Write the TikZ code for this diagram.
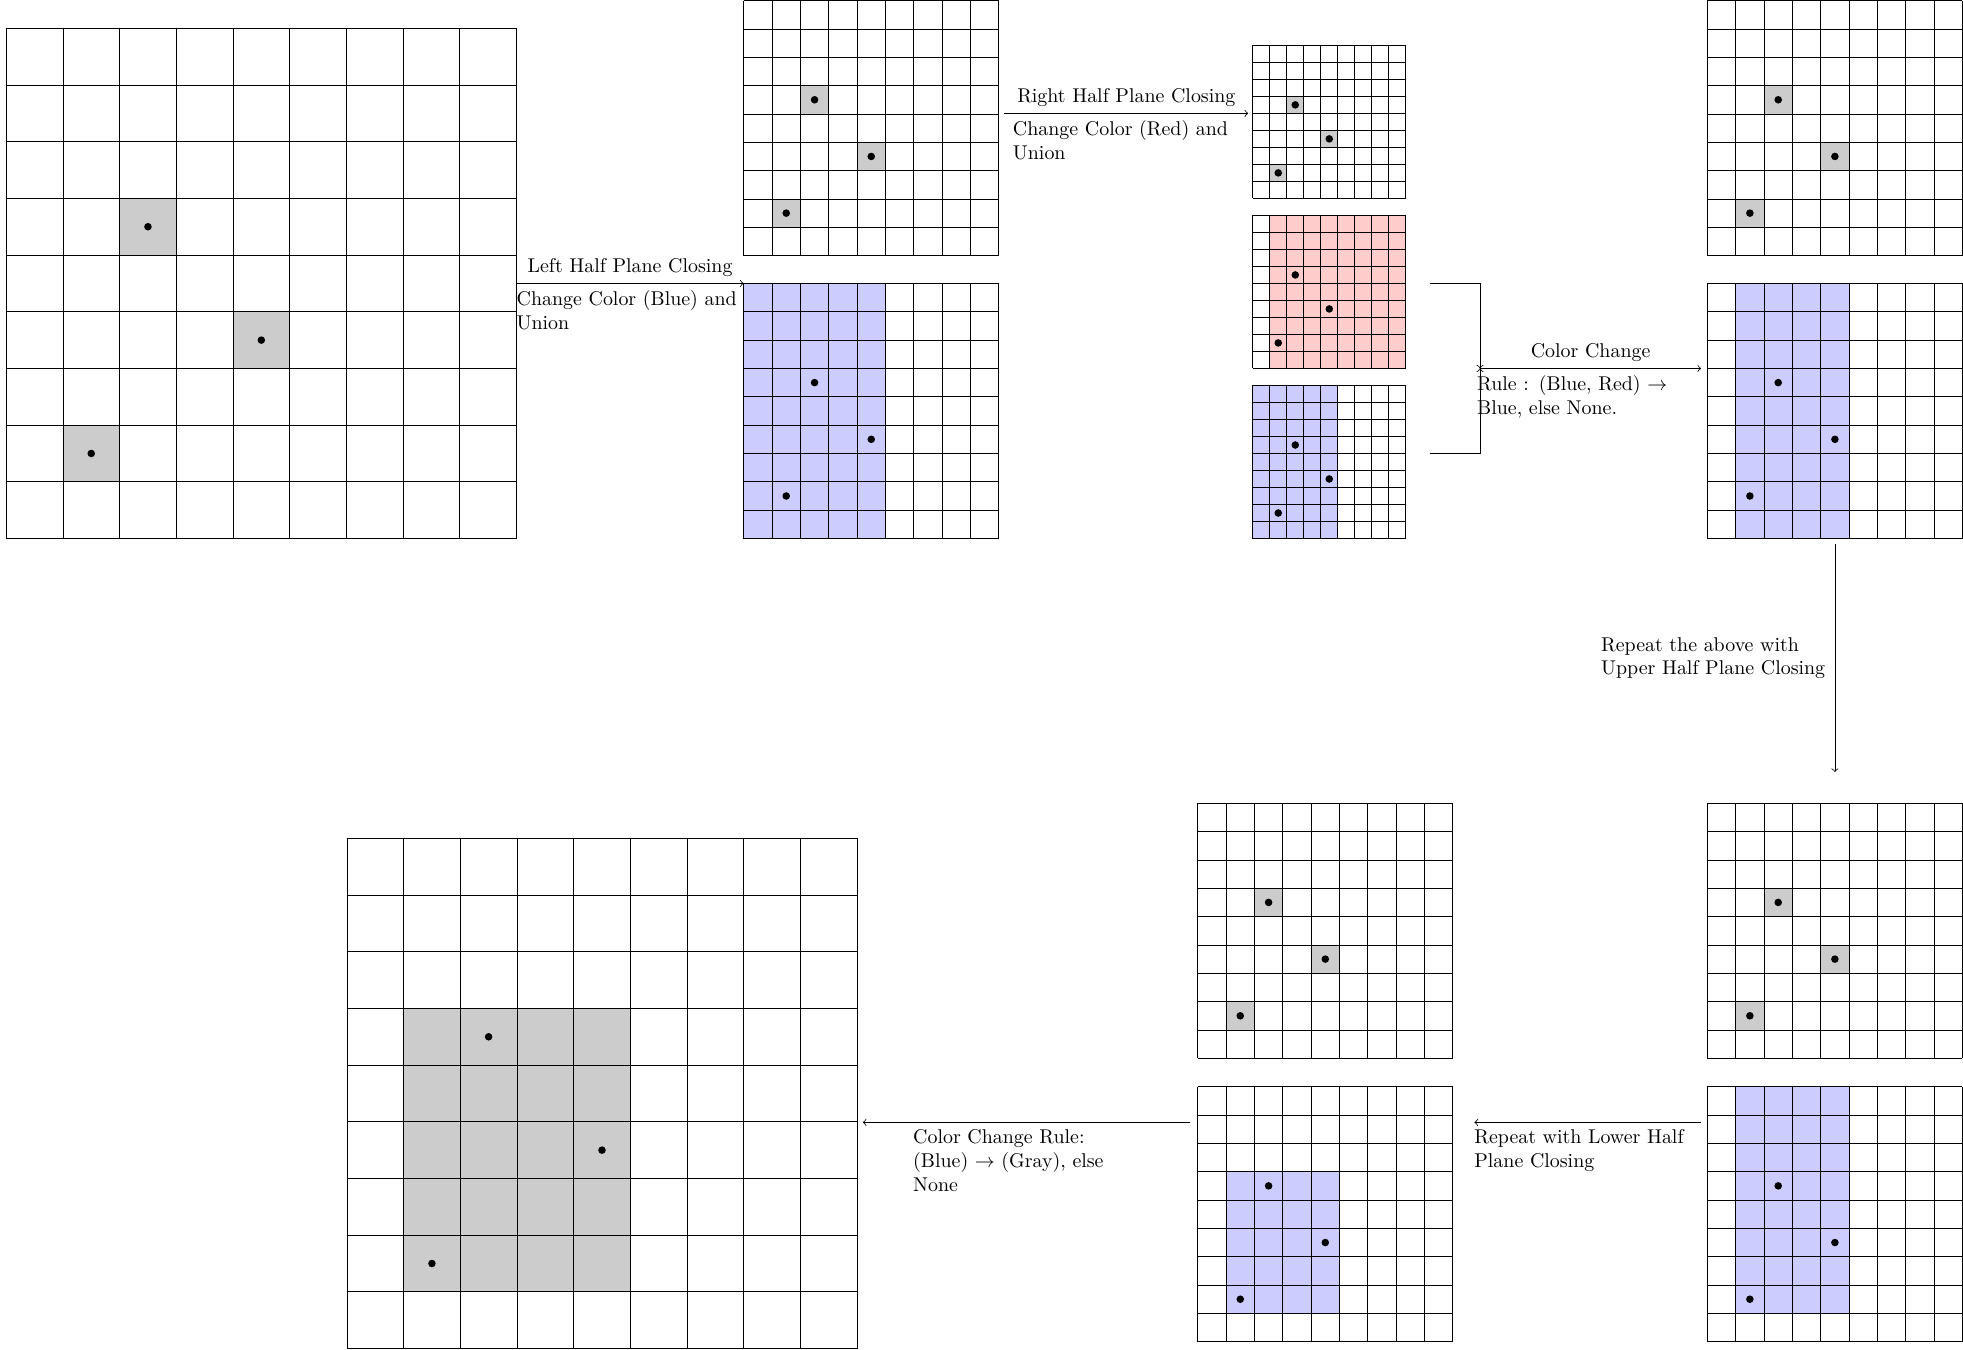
\documentclass[tikz,border=0pt]{standalone}
\usetikzlibrary{calc}
\tikzset{
  gridnode/.style={draw=none, inner sep=0pt, outer sep=0pt, anchor=north west},
  gl/.style={line width=0.4pt, black},
  conn/.style={->, line width=0.4pt},
  lab/.style={text width=4cm, align=left},
  graycell/.style={fill=black!20},
  bluecell/.style={fill=blue!20},
  redcell/.style={fill=red!20},
}
\newcommand\mkgrid[3]{\node[gridnode, minimum width={9*#3cm}, minimum height={9*#3cm}] (#1) at #2 {};}
\newcommand\fillblock[7]{\fill[#3] ($(#1.north west)+({#4*#2},{-#6*#2})$) rectangle ($(#1.north west)+({(#5+1)*#2},{-(#7+1)*#2})$);}
\newcommand\gridlines[2]{\foreach \kk in {0,...,9}{\draw[gl] ($(#1.north west)+({\kk*#2},0)$) -- ++(0,{-9*#2}); \draw[gl] ($(#1.north west)+(0,{-\kk*#2})$) -- ++({9*#2},0);}}
\newcommand\graycells[2]{\foreach \cx/\ry in {2/3,4/5,1/7}{\fill[graycell] ($(#1.north west)+({\cx*#2},{-\ry*#2})$) rectangle ++({#2},{-#2});}}
\newcommand\gdots[2]{\foreach \cx/\ry in {2/3,4/5,1/7}{\fill[black] ($(#1.north west)+({(\cx+0.5)*#2},{-(\ry+0.5)*#2})$) circle (1.9pt);}}
\begin{document}
\begin{tikzpicture}
\useasboundingbox (0,0) rectangle (34.63,-23.81);

% ---- Grid A (original, large)
\mkgrid{A}{(0.11,-0.5)}{1}
\graycells{A}{1}
\gridlines{A}{1}
\gdots{A}{1}

% ---- Grid B top / bottom
\mkgrid{Bt}{(13.12,-0.01)}{0.5}
\graycells{Bt}{0.5}
\gridlines{Bt}{0.5}
\gdots{Bt}{0.5}

\mkgrid{Bb}{(13.12,-5.0)}{0.5}
\fillblock{Bb}{0.5}{bluecell}{0}{4}{0}{8}
\gridlines{Bb}{0.5}
\gdots{Bb}{0.5}

% ---- Grid C (three small)
\mkgrid{Ct}{(22.10,-0.8)}{0.3}
\graycells{Ct}{0.3}
\gridlines{Ct}{0.3}
\gdots{Ct}{0.3}

\mkgrid{Cm}{(22.10,-3.8)}{0.3}
\fillblock{Cm}{0.3}{redcell}{1}{8}{0}{8}
\gridlines{Cm}{0.3}
\gdots{Cm}{0.3}

\mkgrid{Cb}{(22.10,-6.8)}{0.3}
\fillblock{Cb}{0.3}{bluecell}{0}{4}{0}{8}
\gridlines{Cb}{0.3}
\gdots{Cb}{0.3}

% ---- Grid D
\mkgrid{Dt}{(30.12,-0.01)}{0.5}
\graycells{Dt}{0.5}
\gridlines{Dt}{0.5}
\gdots{Dt}{0.5}

\mkgrid{Db}{(30.12,-5.0)}{0.5}
\fillblock{Db}{0.5}{bluecell}{1}{4}{0}{8}
\gridlines{Db}{0.5}
\gdots{Db}{0.5}

% ---- Grid E
\mkgrid{Et}{(30.12,-14.17)}{0.5}
\graycells{Et}{0.5}
\gridlines{Et}{0.5}
\gdots{Et}{0.5}

\mkgrid{Eb}{(30.12,-19.17)}{0.5}
\fillblock{Eb}{0.5}{bluecell}{1}{4}{0}{7}
\gridlines{Eb}{0.5}
\gdots{Eb}{0.5}

% ---- Grid F
\mkgrid{Ft}{(21.13,-14.17)}{0.5}
\graycells{Ft}{0.5}
\gridlines{Ft}{0.5}
\gdots{Ft}{0.5}

\mkgrid{Fb}{(21.13,-19.17)}{0.5}
\fillblock{Fb}{0.5}{bluecell}{1}{4}{3}{7}
\gridlines{Fb}{0.5}
\gdots{Fb}{0.5}

% ---- Grid G (result)
\mkgrid{G}{(6.12,-14.79)}{1}
\fillblock{G}{1}{graycell}{1}{4}{3}{7}
\gridlines{G}{1}
\gdots{G}{1}

% ---- connector end points
\coordinate (r2s) at (17.72,-2.0);
\coordinate (r2e) at (22.02,-2.0);
\coordinate (k1) at (25.22,-5.0);
\coordinate (k2) at (25.22,-8.0);
\coordinate (J) at (26.11,-6.5);
\coordinate (k3) at (30.01,-6.5);
\coordinate (v1) at (32.37,-9.60);
\coordinate (v2) at (32.37,-13.62);
\coordinate (l1) at (30.01,-19.80);
\coordinate (l2) at (26.01,-19.80);
\coordinate (g1) at (21.0,-19.80);
\coordinate (g2) at (15.22,-19.80);

% ---- connectors
\draw[conn] (A.east) -- (Bb.north west)
  node[midway, above] {Left Half Plane Closing}
  node[midway, below, lab] {Change Color (Blue) and Union};

\draw[conn] (r2s) -- (r2e)
  node[midway, above] {Right Half Plane Closing}
  node[midway, below, lab] {Change Color (Red) and Union};

\draw[conn] (k1) -| (J);
\draw[conn] (k2) -| (J);
\draw[conn] (J) -- (k3)
  node[midway, above] {Color Change}
  node[midway, below, lab] {Rule : (Blue, Red) $\rightarrow$ Blue, else None.};

\draw[conn] (v1) -- (v2)
  node[midway, left, lab] {Repeat the above with Upper Half Plane Closing};

\draw[conn] (l1) -- (l2)
  node[midway, below, lab] {Repeat with Lower Half Plane Closing};

\draw[conn] (g1) -- (g2)
  node[midway, below, lab] {Color Change Rule: (Blue) $\rightarrow$ (Gray), else None};
\end{tikzpicture}
\end{document}
